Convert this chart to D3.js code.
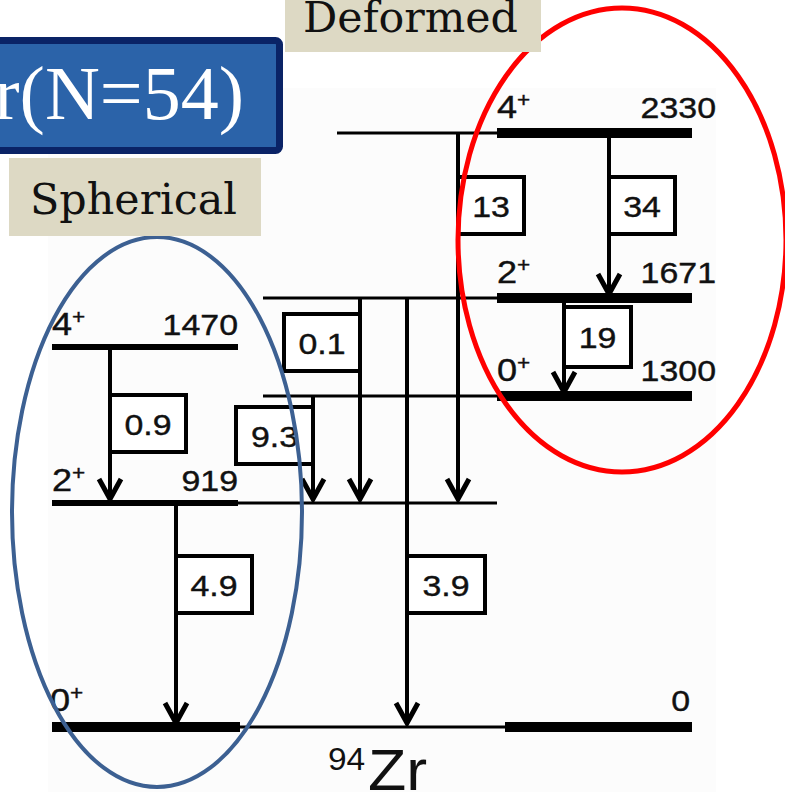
<!DOCTYPE html>
<html>
<head>
<meta charset="utf-8">
<script src="https://cdn.jsdelivr.net/npm/d3@7"></script>
<style>
  body { margin: 0; background: #fff; }
  svg { display: block; }
</style>
</head>
<body>
<div id="chart"></div>
<script>
// 94Zr level scheme, B(E2) values in W.u.
const levelEnergies = [0, 919, 1300, 1470, 1671, 2330]
const levelSpins = ["0", "2", "0", "4", "2", "4"]
const levelEnergyLabels = ["0", "919", "1300", "1470", "1671", "2330"]
const levelShape = ["ground", "sph", "def", "sph", "def", "def"]

const transFrom = [1470, 919, 1300, 1671, 1671, 2330, 2330, 1671]
const transTo = [919, 0, 919, 919, 0, 919, 1671, 1300]
const transBE2 = ["0.9", "4.9", "9.3", "0.1", "3.9", "13", "34", "19"]

const titleText = "Zr(N=54)"
const sphText = "Spherical"
const defText = "Deformed"

// ---- layout (not data) ----
const W = 785, H = 792
const levelY = [727, 503, 396, 347, 298, 133]   // schematic spacing of the drawing
const thinFrom = [240, 238, 263, null, 263, 337] // where the thin extension line starts
const thinTo = [505, 497, 497, null, 497, 497]
const arrowX = [110, 176, 313, 360, 407, 458, 609, 564]
const boxSide = [1, 1, -1, -1, 1, 1, 1, 1]
const boxTop = [395, 556, 407, 314, 556, 177, 177, 307]
const boxW = [76, 76, 77, 76, 78, 66, 66, 67]
const boxH = 57
const sx = 1.13  // horizontal stretch of the sans labels

const svg = d3.select("#chart").append("svg")
    .attr("width", W)
    .attr("height", H)

const y = d3.scaleLinear().domain(levelEnergies).range(levelY)

const levels = levelEnergies.map((e, i) => ({
    e: e, spin: levelSpins[i], label: levelEnergyLabels[i], shape: levelShape[i],
    thinFrom: thinFrom[i], thinTo: thinTo[i]
}))
const trans = transFrom.map((f, i) => ({
    from: f, to: transTo[i], val: transBE2[i],
    x: arrowX[i], side: boxSide[i], top: boxTop[i], w: boxW[i]
}))

// faint background of the pasted figure
svg.append("rect")
    .attr("x", 48).attr("y", 88)
    .attr("width", 668).attr("height", H - 88)
    .attr("fill", "#fcfcfc")

const diag = svg.append("g").attr("class", "diagram")

function sansText(g, x, yy, txt, size, anchor) {
    return g.append("text")
        .attr("transform", `translate(${x},${yy}) scale(${sx},1)`)
        .attr("text-anchor", anchor || "start")
        .attr("font-family", "'Liberation Sans', Arial, sans-serif")
        .attr("font-size", size)
        .attr("fill", "#111")
        .attr("stroke", "#111")
        .attr("stroke-width", 0.4)
        .text(txt)
}

// levels
levels.forEach(d => {
    const yy = y(d.e)
    if (d.thinFrom != null) {
        diag.append("line")
            .attr("x1", d.thinFrom).attr("x2", d.thinTo)
            .attr("y1", yy).attr("y2", yy)
            .attr("stroke", "#000").attr("stroke-width", 3)
    }
    let bars, sw
    if (d.shape === "ground") { bars = [[52, 240], [505, 692]]; sw = 10 }
    else if (d.shape === "sph") { bars = [[52, 238]]; sw = 6 }
    else { bars = [[497, 692]]; sw = 10 }
    bars.forEach(b => {
        diag.append("line")
            .attr("x1", b[0]).attr("x2", b[1])
            .attr("y1", yy).attr("y2", yy)
            .attr("stroke", "#000").attr("stroke-width", sw)
    })

    // spin + parity
    let spinX, enX, base
    if (d.shape === "ground") { spinX = 50; enX = 690; base = yy - 16 }
    else if (d.shape === "sph") { spinX = 52; enX = 238; base = yy - 12 }
    else { spinX = 497; enX = 716; base = yy - 15 }
    const st = sansText(diag, spinX, base, d.spin, 32)
    st.append("tspan").attr("font-size", 20).attr("dy", -11).text("+")
    sansText(diag, enX, base, d.label, 30, "end")
})

// transitions
trans.forEach(d => {
    const y0 = y(d.from), y1 = y(d.to)
    diag.append("line")
        .attr("x1", d.x).attr("x2", d.x)
        .attr("y1", y0).attr("y2", y1 - 3)
        .attr("stroke", "#000").attr("stroke-width", 4)
    diag.append("path")
        .attr("d", `M${d.x - 11},${y1 - 24} L${d.x},${y1 - 4} L${d.x + 11},${y1 - 24}`)
        .attr("fill", "none").attr("stroke", "#000").attr("stroke-width", 5)
    const bx = d.side > 0 ? d.x : d.x - d.w
    const bh = d.val === "19" ? 60 : boxH
    diag.append("rect")
        .attr("x", bx).attr("y", d.top)
        .attr("width", d.w).attr("height", bh)
        .attr("fill", "#fff").attr("stroke", "#000").attr("stroke-width", 4)
    sansText(diag, bx + d.w / 2, d.top + bh / 2 + 11, d.val, 30, "middle")
})

// nucleus label
const nuc = diag.append("text")
    .attr("transform", "translate(328,0) scale(1.08,1)")
    .attr("font-family", "'Liberation Sans', Arial, sans-serif")
    .attr("fill", "#111")
nuc.append("tspan").attr("x", 0).attr("y", 770).attr("font-size", 31).text("94")
nuc.append("tspan").attr("x", 37).attr("y", 790).attr("font-size", 58).text("Zr")

// ellipses
svg.append("ellipse")
    .attr("cx", 157).attr("cy", 512).attr("rx", 145).attr("ry", 275)
    .attr("fill", "none").attr("stroke", "#3c6092").attr("stroke-width", 4)
svg.append("ellipse")
    .attr("cx", 622).attr("cy", 240).attr("rx", 164).attr("ry", 232)
    .attr("fill", "none").attr("stroke", "#ff0000").attr("stroke-width", 5)

// title box
svg.append("rect")
    .attr("x", -20).attr("y", 40.5)
    .attr("width", 299.5).attr("height", 110)
    .attr("rx", 4)
    .attr("fill", "#2b63a9").attr("stroke", "#0a2366").attr("stroke-width", 7)
svg.append("text")
    .attr("x", 244).attr("y", 119)
    .attr("text-anchor", "end")
    .attr("font-family", "'Liberation Serif', 'Times New Roman', serif")
    .attr("font-size", 76)
    .attr("fill", "#fff")
    .text(titleText)

// beige tags
const beige = "#ddd9c4"
svg.append("rect").attr("x", 285).attr("y", -5).attr("width", 256).attr("height", 57).attr("fill", beige)
svg.append("text")
    .attr("x", 303).attr("y", 32)
    .attr("font-family", "'DejaVu Serif', serif")
    .attr("font-size", 42)
    .attr("fill", "#111")
    .attr("textLength", 215)
    .attr("lengthAdjust", "spacingAndGlyphs")
    .text(defText)

svg.append("rect").attr("x", 9).attr("y", 158).attr("width", 252).attr("height", 78).attr("fill", beige)
svg.append("text")
    .attr("x", 30).attr("y", 214)
    .attr("font-family", "'DejaVu Serif', serif")
    .attr("font-size", 42)
    .attr("fill", "#111")
    .attr("textLength", 207)
    .attr("lengthAdjust", "spacingAndGlyphs")
    .text(sphText)
</script>
</body>
</html>
